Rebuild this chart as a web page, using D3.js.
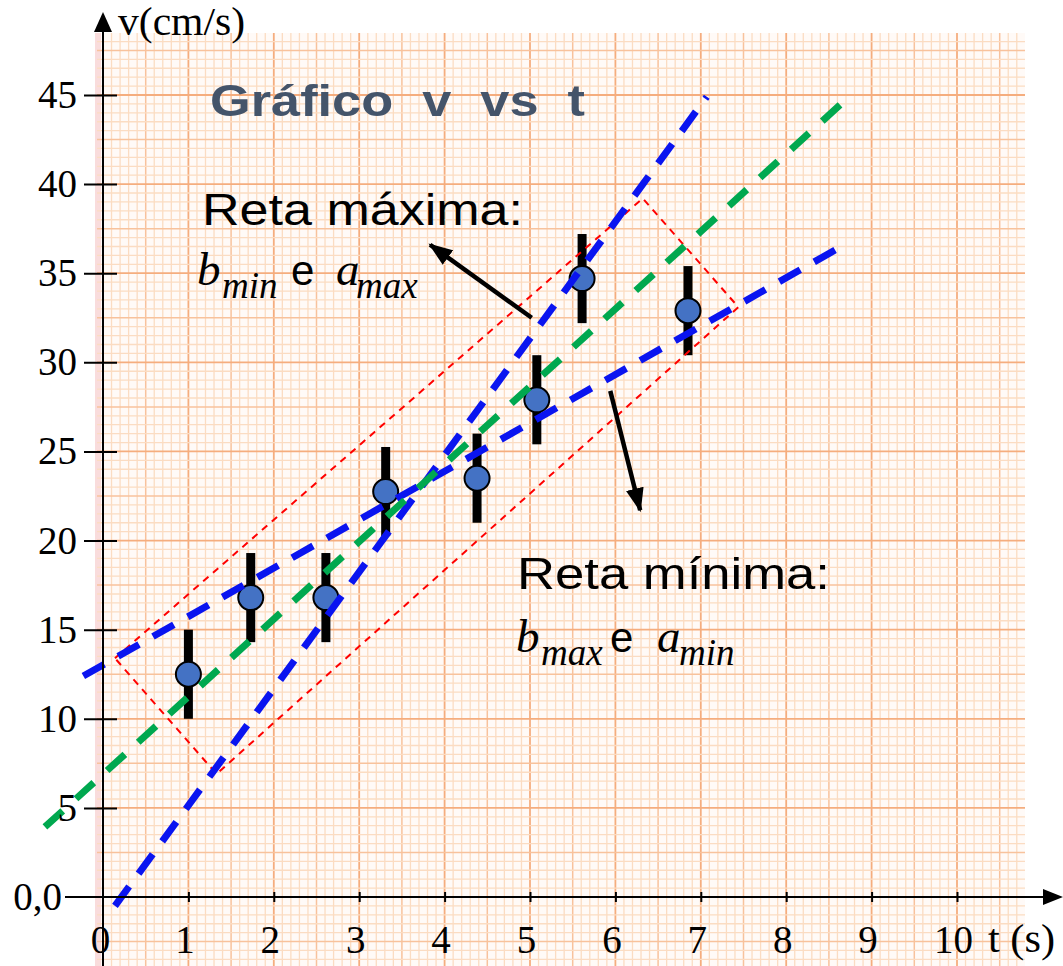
<!DOCTYPE html>
<html>
<head>
<meta charset="utf-8">
<script src="https://cdn.jsdelivr.net/npm/d3@7"></script>
<style>
  body { margin: 0; background: #fff; }
  svg { display: block; }
  text { white-space: pre; }
</style>
</head>
<body>
<script>
// measured values (t in s, v in cm/s)
var tVals = [1.0, 1.73, 2.61, 3.31, 4.38, 5.08, 5.61, 6.85];
var vVals = [12.5, 16.8, 16.8, 22.75, 23.5, 27.9, 34.7, 32.9];
var vErr = [2.5, 2.5, 2.5, 2.5, 2.5, 2.5, 2.5, 2.5];

var xTicks = [0, 1, 2, 3, 4, 5, 6, 7, 8, 9, 10];
var yTicks = [0, 5, 10, 15, 20, 25, 30, 35, 40, 45];

// fitted lines, as [t, v] end points
var lineBest = [[-0.68, 3.93], [8.69, 44.7]];
var lineMax = [[0.14, -0.5], [7.07, 44.9]];
var lineMin = [[-0.23, 12.4], [8.72, 36.7]];
// box around the points
var boxCorners = [[0.14, 13.4], [6.32, 39.2], [7.44, 33.1], [1.33, 6.9]];
// arrows pointing to the labels
var arrowMax = [[5.02, 32.5], [3.83, 36.6]];
var arrowMin = [[5.94, 28.4], [6.29, 21.7]];

var W = 1063, H = 966;
var svg = d3.select("body").append("svg")
    .attr("width", W)
    .attr("height", H);

var x = d3.scaleLinear().domain([0, 10]).range([103, 957]);
var y = d3.scaleLinear().domain([0, 45]).range([897, 95]);

var defs = svg.append("defs");
defs.append("marker")
    .attr("id", "head")
    .attr("viewBox", "0 0 24 18")
    .attr("refX", 22).attr("refY", 9)
    .attr("markerWidth", 24).attr("markerHeight", 18)
    .attr("markerUnits", "userSpaceOnUse")
    .attr("orient", "auto")
  .append("path")
    .attr("d", "M0,0 L24,9 L0,18 Z")
    .attr("fill", "#000");

// graph paper
var paper = {x0: 97, x1: 1025, y0: 33, y1: 966};
svg.append("rect")
    .attr("x", paper.x0).attr("y", paper.y0)
    .attr("width", paper.x1 - paper.x0).attr("height", paper.y1 - paper.y0)
    .attr("fill", "#fffaf7");
svg.append("rect")
    .attr("x", paper.x0 - 2).attr("y", paper.y0)
    .attr("width", 6).attr("height", paper.y1 - paper.y0)
    .attr("fill", "#f9dcdc");

var grid = svg.append("g");
var gx = d3.range(-1, 110).filter(function(i) { var p = x(i / 10); return p >= paper.x0 && p <= paper.x1; });
var gy = d3.range(-8, 100).filter(function(i) { var p = y(i / 2); return p >= paper.y0 && p <= paper.y1; });

function gridColor(i) { return i % 10 === 0 ? "#f5ad7e" : (i % 5 === 0 ? "#f8c29c" : "#fbdcc2"); }
function gridWidth(i) { return i % 10 === 0 ? 1.8 : (i % 5 === 0 ? 1.5 : 1.3); }

grid.selectAll(".gv").data(gx).enter().append("line")
    .attr("x1", function(i) { return x(i / 10); })
    .attr("x2", function(i) { return x(i / 10); })
    .attr("y1", paper.y0).attr("y2", paper.y1)
    .attr("stroke", gridColor)
    .attr("stroke-width", gridWidth);
grid.selectAll(".gh").data(gy).enter().append("line")
    .attr("y1", function(i) { return y(i / 2); })
    .attr("y2", function(i) { return y(i / 2); })
    .attr("x1", paper.x0).attr("x2", paper.x1)
    .attr("stroke", gridColor)
    .attr("stroke-width", gridWidth);

// data points with error bars
var pts = tVals.map(function(t, i) { return {t: t, v: vVals[i], e: vErr[i]}; });

svg.selectAll(".err").data(pts).enter().append("rect")
    .attr("x", function(d) { return x(d.t) - 4.5; })
    .attr("y", function(d) { return y(d.v + d.e); })
    .attr("width", 9)
    .attr("height", function(d) { return y(d.v - d.e) - y(d.v + d.e); })
    .attr("fill", "#000");

svg.selectAll(".pt").data(pts).enter().append("circle")
    .attr("cx", function(d) { return x(d.t); })
    .attr("cy", function(d) { return y(d.v); })
    .attr("r", 12.5)
    .attr("fill", "#4472c4")
    .attr("stroke", "#000")
    .attr("stroke-width", 2);

var line = d3.line()
    .x(function(d) { return x(d[0]); })
    .y(function(d) { return y(d[1]); });

// red box
svg.append("path")
    .attr("d", line(boxCorners) + "Z")
    .attr("fill", "none")
    .attr("stroke", "#ff0000")
    .attr("stroke-width", 2)
    .attr("stroke-dasharray", "7,6");

// min / max lines
[lineMax, lineMin].forEach(function(l) {
  svg.append("path")
      .attr("d", line(l))
      .attr("fill", "none")
      .attr("stroke", "#0a14f0")
      .attr("stroke-width", 7)
      .attr("stroke-dasharray", "24,16");
});

// best line
svg.append("path")
    .attr("d", line(lineBest))
    .attr("fill", "none")
    .attr("stroke", "#00a84f")
    .attr("stroke-width", 7)
    .attr("stroke-dasharray", "24,18");

// arrows
[arrowMax, arrowMin].forEach(function(a) {
  svg.append("path")
      .attr("d", line(a))
      .attr("stroke", "#000")
      .attr("stroke-width", 4.5)
      .attr("marker-end", "url(#head)");
});

// axes
svg.append("line")
    .attr("x1", 65).attr("x2", 1045)
    .attr("y1", y(0)).attr("y2", y(0))
    .attr("stroke", "#000").attr("stroke-width", 2);
svg.append("path")
    .attr("d", "M1063," + y(0) + " L1043," + (y(0) - 8) + " L1043," + (y(0) + 8) + " Z")
    .attr("fill", "#000");
svg.append("line")
    .attr("x1", x(0)).attr("x2", x(0))
    .attr("y1", H).attr("y2", 30)
    .attr("stroke", "#000").attr("stroke-width", 2);
svg.append("path")
    .attr("d", "M" + x(0) + ",12 L" + (x(0) - 9) + ",32 L" + (x(0) + 9) + ",32 Z")
    .attr("fill", "#000");

var serif = "'Liberation Serif', 'Times New Roman', serif";
var sans = "'Liberation Sans', Arial, sans-serif";

var yAxis = d3.axisLeft(y)
    .tickValues(yTicks)
    .tickSize(0)
    .tickPadding(26)
    .tickFormat(function(d) { return d === 0 ? "0,0" : d; });

var gY = svg.append("g")
    .attr("transform", "translate(" + x(0) + ",0)")
    .call(yAxis);
gY.select(".domain").remove();
gY.selectAll(".tick line")
    .attr("x1", function(d) { return d === 0 ? 0 : 14; })
    .attr("x2", function(d) { return d === 0 ? 0 : -19; })
    .attr("stroke", "#000").attr("stroke-width", 2);
gY.selectAll(".tick text")
    .attr("x", function(d) { return d === 0 ? -41 : -26; })
    .attr("font-family", serif)
    .attr("font-size", 39)
    .attr("fill", "#000");

var xAxis = d3.axisBottom(x)
    .tickValues(xTicks)
    .tickSize(0)
    .tickPadding(28);

var gX = svg.append("g")
    .attr("transform", "translate(0," + y(0) + ")")
    .call(xAxis);
gX.select(".domain").remove();
gX.selectAll(".tick line")
    .attr("y1", function(d) { return d === 0 ? 0 : -5; })
    .attr("y2", function(d) { return d === 0 ? 0 : 5; })
    .attr("stroke", "#000").attr("stroke-width", 2);
gX.selectAll(".tick text")
    .attr("dx", function(d) { return d === 0 ? -3 : -4; })
    .attr("font-family", serif)
    .attr("font-size", 39)
    .attr("fill", "#000");

svg.append("text")
    .attr("x", 118).attr("y", 35)
    .attr("font-family", serif).attr("font-size", 39)
    .attr("textLength", 127).attr("lengthAdjust", "spacingAndGlyphs")
    .text("v(cm/s)");
svg.append("text")
    .attr("x", 988).attr("y", 952)
    .attr("font-family", serif).attr("font-size", 39)
    .attr("textLength", 67).attr("lengthAdjust", "spacingAndGlyphs")
    .text("t (s)");

// title and labels
svg.append("text")
    .attr("x", 210).attr("y", 116)
    .attr("font-family", sans).attr("font-size", 45).attr("font-weight", "bold")
    .attr("fill", "#44546a")
    .attr("textLength", 375).attr("lengthAdjust", "spacingAndGlyphs")
    .text("Gráfico  v  vs  t");

svg.append("text")
    .attr("x", 202).attr("y", 225)
    .attr("font-family", sans).attr("font-size", 44)
    .attr("textLength", 321).attr("lengthAdjust", "spacingAndGlyphs")
    .text("Reta máxima:");
svg.append("text")
    .attr("x", 517).attr("y", 589)
    .attr("font-family", sans).attr("font-size", 44)
    .attr("textLength", 313).attr("lengthAdjust", "spacingAndGlyphs")
    .text("Reta mínima:");

function formula(parts) {
  parts.forEach(function(p) {
    svg.append("text")
        .attr("x", p.x).attr("y", p.y)
        .attr("font-family", p.sans ? sans : serif)
        .attr("font-style", p.sans ? "normal" : "italic")
        .attr("font-size", p.s)
        .text(p.t);
  });
}
formula([
  {t: "b", x: 197, y: 285, s: 47},
  {t: "min", x: 222, y: 298, s: 37},
  {t: "e", x: 291, y: 285, s: 42, sans: true},
  {t: "a", x: 336, y: 285, s: 47},
  {t: "max", x: 356, y: 298, s: 37}
]);
formula([
  {t: "b", x: 516, y: 652, s: 47},
  {t: "max", x: 541, y: 665, s: 37},
  {t: "e", x: 610, y: 652, s: 42, sans: true},
  {t: "a", x: 657, y: 652, s: 47},
  {t: "min", x: 679, y: 665, s: 37}
]);
</script>
</body>
</html>
